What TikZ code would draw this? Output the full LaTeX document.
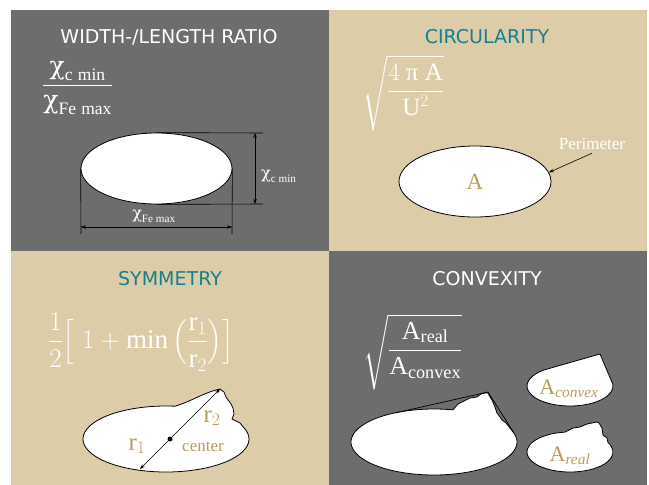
\RequirePackage{fix-cm}
\documentclass[tikz,border=0pt]{standalone}
\usepackage{amsmath}
\usepackage{fontspec}
\setmainfont{Liberation Serif}
\newfontfamily\titlefont{DejaVu Sans}
\newfontfamily\greekserif{DejaVu Serif}
\newcommand{\chiup}{\text{\greekserif χ}}
\usetikzlibrary{shapes.geometric,arrows.meta,positioning,calc}
\definecolor{panelGray}{RGB}{109,109,109}
\definecolor{panelBeige}{RGB}{220,205,168}
\definecolor{titleTeal}{RGB}{24,126,143}
\definecolor{labelGold}{RGB}{184,158,92}

\begin{document}
\begin{tikzpicture}[x=1pt, y=-1pt,
    title/.style={font=\titlefont\fontsize{19}{22}\selectfont, anchor=base, inner sep=0pt},
    formula/.style={text=white, anchor=west, inner sep=0pt, font=\fontsize{25}{30}\selectfont},
    particle/.style={ellipse, draw, fill=white, line width=0.8pt, inner sep=0pt},
    blob/.style={draw, fill=white, line width=0.8pt, line join=round},
    dimline/.style={line width=0.6pt},
    dimarrow/.style={dimline, {Stealth[length=5pt,width=3.5pt]}-{Stealth[length=5pt,width=3.5pt]}},
    goldlbl/.style={text=labelGold, inner sep=0pt}
  ]
  % Background and the four panels
  \fill[white] (0,0) rectangle (649,485);
  \fill[panelGray] (11,10) rectangle (329,251);
  \fill[panelBeige] (329,10) rectangle (647,251);
  \fill[panelBeige] (11,251) rectangle (329,485);
  \fill[panelGray] (329,251) rectangle (647,485);

  % Width-/length ratio
  \node[title, text=white] (wlTitle) at (169,43) {WIDTH-/LENGTH RATIO};
  \node[formula] (wlForm) at (42,88) {$\dfrac{\chiup_{\text{c\hspace{0.3em}min}}}{\chiup_{\text{Fe\hspace{0.3em}max}}}$};
  \node[particle, minimum width=151pt, minimum height=71pt] (wlEll) at (156.5,168.5) {};
  \coordinate (dimTop) at (263,133);
  \coordinate (dimBot) at (263,204);
  \coordinate (dimLeftEnd) at (81,234);
  \coordinate (dimRightEnd) at (232,234);
  \coordinate (arrTop) at (255,133);
  \coordinate (arrBot) at (255,204);
  \coordinate (arrLeft) at (81,227);
  \coordinate (arrRight) at (232,227);
  \draw[dimline] (wlEll.north) -- (dimTop);
  \draw[dimline] (wlEll.south) -- (dimBot);
  \draw[dimline] (wlEll.west) -- (dimLeftEnd);
  \draw[dimline] (wlEll.east) -- (dimRightEnd);
  \draw[dimarrow] (arrTop) -- (arrBot);
  \draw[dimarrow] (arrLeft) -- (arrRight);
  \node[text=white, anchor=west, inner sep=0pt, font=\fontsize{16}{18}\selectfont] (cMinLbl) at (261,176) {$\chiup_{\text{c min}}$};
  \node[text=white, inner sep=0pt, font=\fontsize{16}{18}\selectfont] (feMaxLbl) at (154,216) {$\chiup_{\text{Fe max}}$};

  % Circularity
  \node[title, text=titleTeal] (circTitle) at (487,43) {CIRCULARITY};
  \node[formula] (circForm) at (362,93) {$\sqrt{\rule[-30pt]{0pt}{66pt}\dfrac{4\ \text{π}\ \text{A}}{\text{U}^{2}}}$};
  \node[particle, goldlbl, minimum width=152pt, minimum height=71pt, font=\fontsize{23}{25}\selectfont] (circEll) at (475,181.5) {A};
  \node[text=white, font=\fontsize{17}{19}\selectfont] (perimLbl) at (592,144) {Perimeter};
  \draw[-{Stealth[length=5pt,width=3.5pt]}, line width=0.6pt] (perimLbl.south) -- (circEll.7);

  % Symmetry
  \node[title, text=titleTeal] (symTitle) at (170,285) {SYMMETRY};
  \node[formula, font=\fontsize{27}{30}\selectfont] (symForm) at (48,342) {$\dfrac{1}{2}\Big[\;1+\text{min}\,\Big(\dfrac{\text{r}_1}{\text{r}_2}\Big)\Big]$};
  \draw[blob] ($(166,439)+(276.2:83 and 33)$) .. controls (190,402) and (205,392) .. (220,389)
    -- (224,392) -- (226,397) -- (229,401) -- (231,404) -- (233,408) -- (234,414) -- (232,419)
    -- (240,423) -- ($(166,439)+(-21.4:83 and 33)$)
    arc[start angle=-21.4, end angle=276.2, x radius=83, y radius=33] -- cycle;
  \coordinate (rEnd1) at (140,469);
  \coordinate (rEnd2) at (220,389);
  \draw[dimarrow] (rEnd1) -- (rEnd2);
  \node[circle, fill=black, inner sep=0pt, minimum size=5pt] (ctrDot) at (170,439) {};
  \node[goldlbl, font=\fontsize{25}{27}\selectfont] (r1Lbl) at (137,446) {$\text{r}_1$};
  \node[goldlbl, font=\fontsize{25}{27}\selectfont] (r2Lbl) at (212,418) {$\text{r}_2$};
  \node[goldlbl, font=\fontsize{17}{19}\selectfont] (ctrLbl) at (203,447) {center};

  % Convexity
  \node[title, text=white] (cvxTitle) at (487,285) {CONVEXITY};
  \node[formula, font=\fontsize{26}{30}\selectfont] (cvxForm) at (363,352) {$\sqrt{\rule[-30pt]{0pt}{66pt}\dfrac{\text{A}_{\text{real}}}{\text{A}_{\text{convex}}}}$};
  \draw[blob] ($(434,442)+(283.2:83 and 33)$) -- (458,404) -- (462,402) -- (470,398) -- (477,397)
    -- (481,394) -- (485,393) -- (488,393) -- (490,397) -- (492,400) -- (495,407) -- (497,413)
    -- (500,417) -- (502,420) -- (506,423) -- (510,428)
    -- ($(434,442)+(-20:83 and 33)$)
    arc[start angle=-20, end angle=283.2, x radius=83, y radius=33] -- cycle;
  \coordinate (hullL) at (395,413);
  \coordinate (hullTop) at (488,392);
  \coordinate (hullR) at (514,433);
  \draw[line width=0.7pt] (hullL) -- (hullTop) -- (hullR);
  \draw[blob] (600,354) -- ($(570,386)+(-17.5:43 and 20)$)
    arc[start angle=-17.5, end angle=239.2, x radius=43, y radius=20] -- cycle;
  \node[goldlbl, font=\fontsize{22}{24}\selectfont] (aConvexLbl) at (569,389) {$\text{A}_{\textit{convex}}$};
  \draw[blob] ($(570,452)+(263.3:43 and 20)$) -- (573,428) -- (580,427) -- (587,424) -- (592,423)
    -- (597,422) -- (599,423) -- (602,428) -- (603,435) -- (607,438)
    -- ($(570,452)+(-27.9:43 and 20)$)
    arc[start angle=-27.9, end angle=263.3, x radius=43, y radius=20] -- cycle;
  \node[goldlbl, font=\fontsize{22}{24}\selectfont] (aRealLbl) at (570,456) {$\text{A}_{\textit{real}}$};
\end{tikzpicture}
\end{document}
